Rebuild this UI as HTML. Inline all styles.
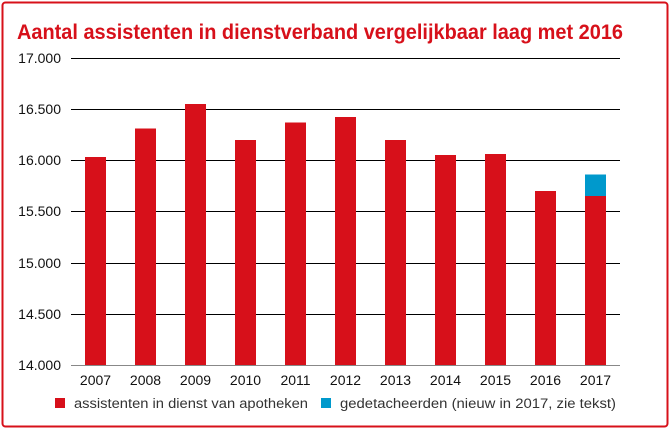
<!DOCTYPE html>
<html><head><style>
html,body{margin:0;padding:0;background:#fff;}
svg{display:block;font-family:"Liberation Sans Narrow","Liberation Sans",sans-serif;}
</style></head><body>
<svg width="670" height="430" viewBox="0 0 670 430" xmlns="http://www.w3.org/2000/svg">
<rect x="2.5" y="2.5" width="665" height="424" rx="3" fill="#fff" stroke="#d7101a" stroke-width="2"/>
<text x="17" y="39" font-size="21" font-weight="bold" fill="#d7101a" textLength="606" lengthAdjust="spacingAndGlyphs">Aantal assistenten in dienstverband vergelijkbaar laag met 2016</text>
<g stroke="#000" stroke-width="1">
<line x1="71" x2="620" y1="58.5" y2="58.5"/>
<line x1="71" x2="620" y1="109.5" y2="109.5"/>
<line x1="71" x2="620" y1="160.5" y2="160.5"/>
<line x1="71" x2="620" y1="211.5" y2="211.5"/>
<line x1="71" x2="620" y1="263.5" y2="263.5"/>
<line x1="71" x2="620" y1="314.5" y2="314.5"/>
</g>
<g font-size="14" fill="#111" text-anchor="end">
<text x="61" y="63">17.000</text>
<text x="61" y="114">16.500</text>
<text x="61" y="165">16.000</text>
<text x="61" y="216">15.500</text>
<text x="61" y="268">15.000</text>
<text x="61" y="319">14.500</text>
<text x="61" y="370">14.000</text>
</g>
<g fill="#d7101a">
<rect x="85" y="157" width="21" height="208"/>
<rect x="135" y="128.5" width="21" height="236.5"/>
<rect x="185" y="104" width="21" height="261"/>
<rect x="235" y="140" width="21" height="225"/>
<rect x="285" y="122.5" width="21" height="242.5"/>
<rect x="335" y="117" width="21" height="248"/>
<rect x="385" y="140" width="21" height="225"/>
<rect x="435" y="155" width="21" height="210"/>
<rect x="485" y="154" width="21" height="211"/>
<rect x="535" y="191" width="21" height="174"/>
<rect x="585" y="196" width="21" height="169"/>
</g>
<rect x="585" y="174.5" width="21" height="21.5" fill="#0099cc"/>
<line x1="71" x2="620" y1="365.5" y2="365.5" stroke="#888" stroke-width="1"/>
<g font-size="14" fill="#111" text-anchor="middle">
<text x="95.5" y="385">2007</text><text x="145.5" y="385">2008</text><text x="195.5" y="385">2009</text>
<text x="245.5" y="385">2010</text><text x="295.5" y="385">2011</text><text x="345.5" y="385">2012</text>
<text x="395.5" y="385">2013</text><text x="445.5" y="385">2014</text><text x="495.5" y="385">2015</text>
<text x="545.5" y="385">2016</text><text x="595.5" y="385">2017</text>
</g>
<rect x="55" y="398" width="10" height="10" fill="#d7101a"/>
<text x="74" y="408" font-size="13.5" fill="#333" textLength="234" lengthAdjust="spacingAndGlyphs">assistenten in dienst van apotheken</text>
<rect x="321" y="398" width="10" height="10" fill="#0099cc"/>
<text x="340" y="408" font-size="13.5" fill="#333" textLength="276" lengthAdjust="spacingAndGlyphs">gedetacheerden (nieuw in 2017, zie tekst)</text>
</svg>
</body></html>
